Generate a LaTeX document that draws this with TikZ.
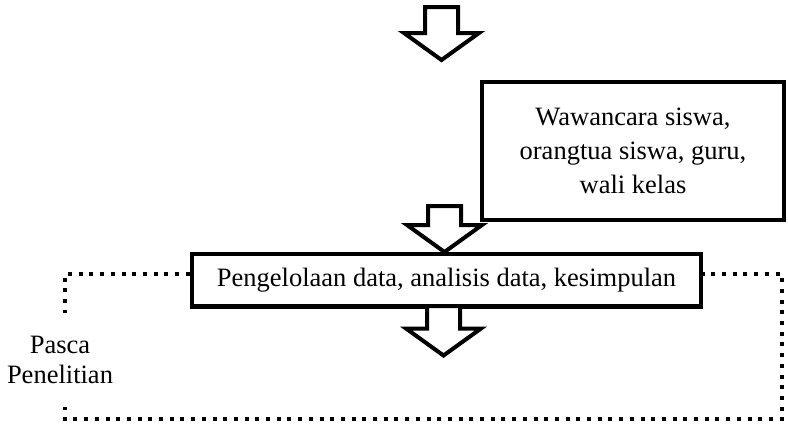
\documentclass[tikz,border=0pt]{standalone}
\usepackage{fontspec}
\setmainfont{Liberation Serif}
% hollow block arrow pointing down: axis x, top y, shaft length
\newcommand{\blockdown}[3]{%
  \draw[hollow] (#1-16.5,#2) -- (#1-16.5,#2+#3) -- (#1-37.5,#2+#3) -- (#1,#2+#3+27)
    -- (#1+37.5,#2+#3) -- (#1+16.5,#2+#3) -- (#1+16.5,#2) -- cycle;}
\begin{document}
\begin{tikzpicture}[x=1pt, y=-1pt,
  box/.style={draw, line width=4.5pt, align=center, inner sep=0pt, font=\fontsize{26.5}{34}\selectfont},
  hollow/.style={draw, line width=4pt, fill=white},
  dotline/.style={line width=4pt, dash pattern=on 4pt off 6.7pt}
]
\useasboundingbox (0,0) rectangle (788,424);
\node[box, minimum width=302, minimum height=138] (interview) at (633,151) {Wawancara siswa,\\orangtua siswa, guru,\\wali kelas};
\node[box, minimum width=509, minimum height=52.5] (process) at (446.5,280) {Pengelolaan data, analisis data, kesimpulan};
% dotted loop round the last step
\draw[dotline] ([yshift=6pt]process.west) -| (65,419) -| (782,274) -- ([yshift=6pt]process.east);
\node[fill=white, align=center, inner sep=2pt, minimum height=94, font=\fontsize{26.5}{30}\selectfont] (phase) at (60,360) {Pasca\\Penelitian};
\blockdown{441.5}{7}{26}
\blockdown{444.5}{206}{19}
\blockdown{443.5}{306}{22.5}
\end{tikzpicture}
\end{document}
